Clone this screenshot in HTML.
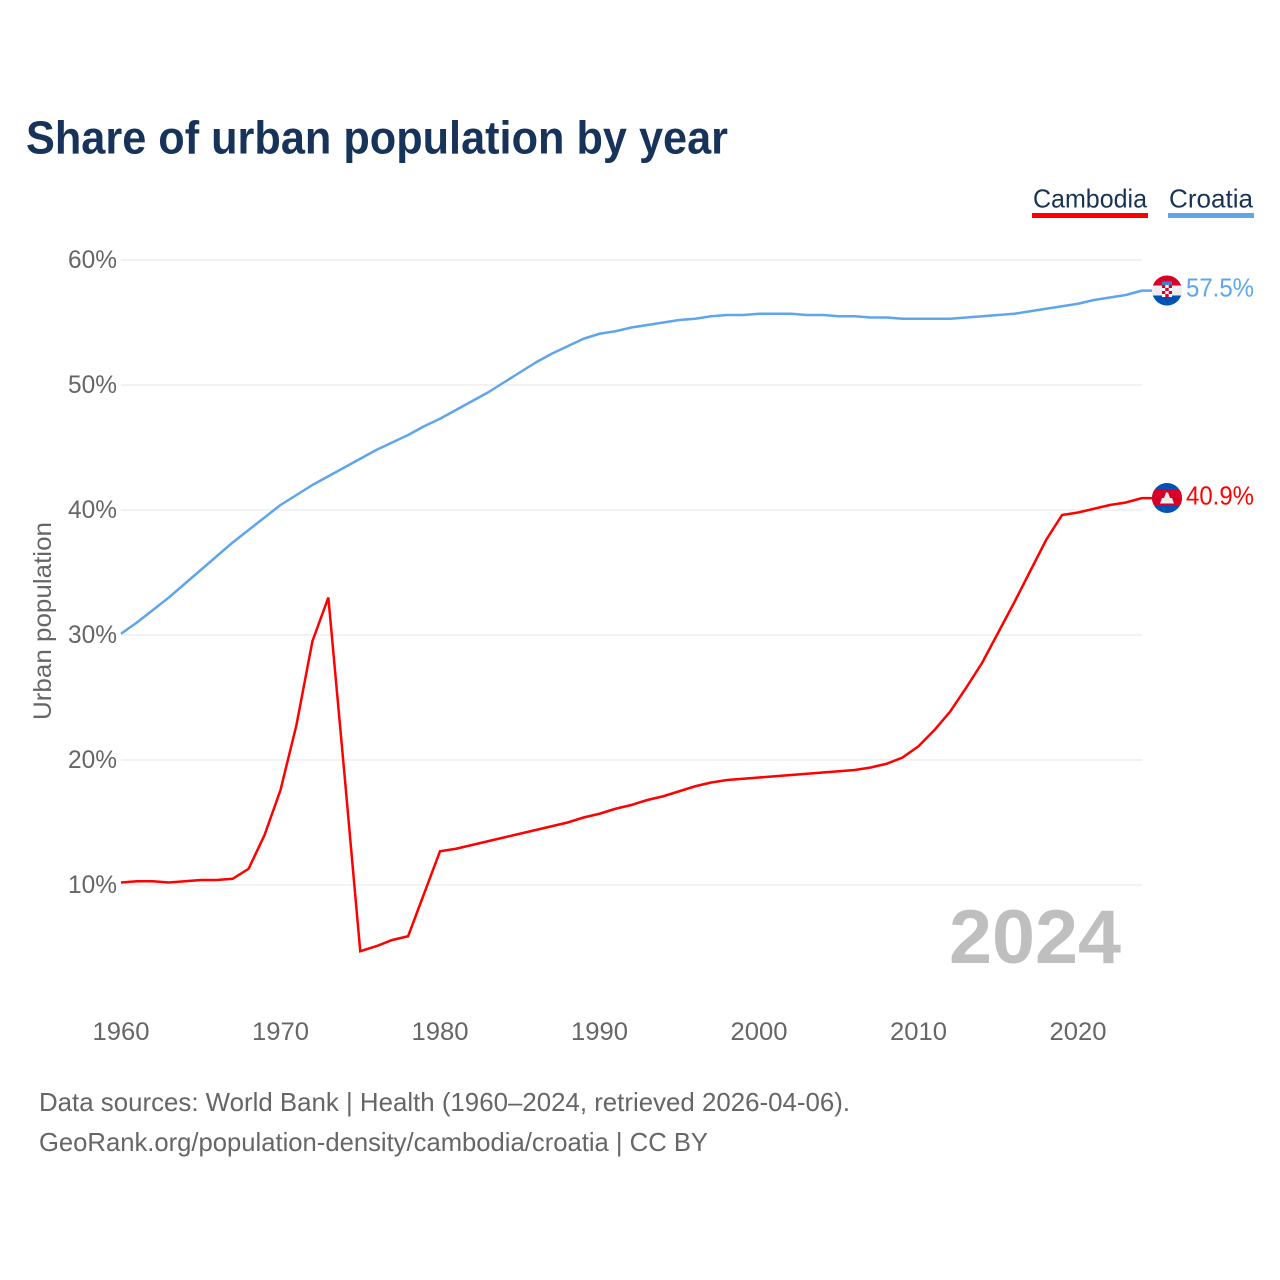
<!DOCTYPE html>
<html lang="en">
<head>
<meta charset="utf-8">
<title>Share of urban population by year</title>
<style>
html,body{margin:0;padding:0;background:#fff;}
svg{display:block;}
text{font-family:"Liberation Sans",sans-serif;}
</style>
</head>
<body>
<svg id="chart" xmlns="http://www.w3.org/2000/svg" width="1280" height="1280" viewBox="0 0 1280 1280">
  <defs>
    <clipPath id="clip-hr"><circle cx="1167" cy="290.5" r="15"></circle></clipPath>
    <clipPath id="clip-kh"><circle cx="1167" cy="498" r="15"></circle></clipPath>
  </defs>
  <rect x="0" y="0" width="1280" height="1280" fill="#fff"></rect>
  <text x="26" y="153.5" font-size="46" font-weight="700" fill="#17335a" textLength="702" lengthAdjust="spacingAndGlyphs">Share of urban population by year</text>

  <g id="grid"></g>
  <g id="yticks"></g>
  <g id="xticks"></g>

  <text transform="translate(51,720) rotate(-90)" x="0" y="0" font-size="25" fill="#666" textLength="198" lengthAdjust="spacingAndGlyphs">Urban population</text>

  <text x="949" y="963" font-size="76" font-weight="700" fill="#bfbfbf" textLength="172" lengthAdjust="spacingAndGlyphs">2024</text>

  <path id="line-croatia" fill="none" stroke="#5fa5ec" stroke-width="2.5" stroke-linejoin="round"></path>
  <path id="line-cambodia" fill="none" stroke="#ff0000" stroke-width="2.5" stroke-linejoin="miter"></path>

  <g>
    <text x="1033" y="207.500" font-size="26" fill="#1a3355" textLength="114" lengthAdjust="spacingAndGlyphs">Cambodia</text>
    <rect x="1032" y="213" width="116" height="5" fill="#ff0000"></rect>
  </g>
  <g>
    <text x="1169" y="207.500" font-size="26" fill="#1a3355" textLength="84" lengthAdjust="spacingAndGlyphs">Croatia</text>
    <rect x="1168" y="213" width="86" height="5" fill="#5fa5ec"></rect>
  </g>

  <g clip-path="url(#clip-hr)">
    <rect x="1152" y="275" width="30" height="31" fill="#eeeeee"></rect>
    <rect x="1152" y="275" width="30" height="10.500" fill="#d80027"></rect>
    <rect x="1152" y="295.500" width="30" height="10.500" fill="#0052b4"></rect>
    <rect x="1162" y="281.500" width="10" height="3.500" fill="#3f7fd0"></rect>
    <rect x="1162" y="285" width="10" height="12" fill="#fff"></rect>
    <rect x="1162" y="285" width="3.300" height="3" fill="#d80027"></rect>
    <rect x="1168.700" y="285" width="3.300" height="3" fill="#d80027"></rect>
    <rect x="1165.300" y="288" width="3.400" height="3" fill="#d80027"></rect>
    <rect x="1162" y="291" width="3.300" height="3" fill="#d80027"></rect>
    <rect x="1168.700" y="291" width="3.300" height="3" fill="#d80027"></rect>
    <rect x="1165.300" y="294" width="3.400" height="3" fill="#d80027"></rect>
  </g>
  <g clip-path="url(#clip-kh)">
    <rect x="1152" y="483" width="30" height="31" fill="#0052b4"></rect>
    <rect x="1152" y="490" width="30" height="15" fill="#d80027"></rect>
    <polygon points="1160,503.500 1162,498 1164,498 1166,492.500 1168,492.500 1170,498 1172,498 1174,503.500" fill="#eeeeee"></polygon>
  </g>

  <text x="1186" y="296.500" font-size="26" fill="#5fa5ec" textLength="68" lengthAdjust="spacingAndGlyphs">57.5%</text>
  <text x="1186" y="504.500" font-size="26" fill="#ff0000" textLength="68" lengthAdjust="spacingAndGlyphs">40.9%</text>

  <text x="39" y="1111" font-size="26" fill="#666" textLength="811" lengthAdjust="spacingAndGlyphs">Data sources: World Bank | Health (1960–2024, retrieved 2026-04-06).</text>
  <text x="39" y="1151" font-size="26" fill="#666" textLength="669" lengthAdjust="spacingAndGlyphs">GeoRank.org/population-density/cambodia/croatia | CC BY</text>
</svg>
<script>
const startYear = 1960;
const yTickValues = [10, 20, 30, 40, 50, 60];
const yTickLabels = ["10%", "20%", "30%", "40%", "50%", "60%"];
const xTickYears = [1960, 1970, 1980, 1990, 2000, 2010, 2020];
const xTickLabels = ["1960", "1970", "1980", "1990", "2000", "2010", "2020"];
const cambodiaValues = [10.2,10.3,10.3,10.2,10.3,10.4,10.4,10.5,11.3,14.0,17.6,22.8,29.5,33.0,19.0,4.7,5.1,5.6,5.9,9.3,12.7,12.9,13.2,13.5,13.8,14.1,14.4,14.7,15.0,15.4,15.7,16.1,16.4,16.8,17.1,17.5,17.9,18.2,18.4,18.5,18.6,18.7,18.8,18.9,19.0,19.1,19.2,19.4,19.7,20.2,21.1,22.4,23.9,25.8,27.8,30.2,32.6,35.1,37.6,39.6,39.8,40.1,40.4,40.6,40.95];
const croatiaValues = [30.1,31.0,32.0,33.0,34.1,35.2,36.3,37.4,38.4,39.4,40.4,41.2,42.0,42.7,43.4,44.1,44.8,45.4,46.0,46.7,47.3,48.0,48.7,49.4,50.2,51.0,51.8,52.5,53.1,53.7,54.1,54.3,54.6,54.8,55.0,55.2,55.3,55.5,55.6,55.6,55.7,55.7,55.7,55.6,55.6,55.5,55.5,55.4,55.4,55.3,55.3,55.3,55.3,55.4,55.5,55.6,55.7,55.9,56.1,56.3,56.5,56.8,57.0,57.2,57.55];

const NS = "http://www.w3.org/2000/svg";
const xScale = function (year) { return 121 + (year - 1960) * 15.95; };
const yScale = function (value) { return 260 + (60 - value) * 12.5; };

const gridGroup = document.getElementById("grid");
const yGroup = document.getElementById("yticks");
const xGroup = document.getElementById("xticks");

yTickValues.forEach(function (v, i) {
  const line = document.createElementNS(NS, "line");
  
  
  line.setAttribute("x1", 121);
  line.setAttribute("x2", 1142);
  line.setAttribute("y1", yScale(v));
  line.setAttribute("y2", yScale(v));
  line.setAttribute("stroke", "#eeeeee");
  line.setAttribute("stroke-width", "1.5");
  gridGroup.appendChild(line);

  const label = document.createElementNS(NS, "text");
  
  
  label.setAttribute("x", 117);
  label.setAttribute("y", yScale(v) + 8);
  label.setAttribute("text-anchor", "end");
  label.setAttribute("font-size", "25");
  label.setAttribute("fill", "#666");
  label.setAttribute("textLength", "49");
  label.setAttribute("lengthAdjust", "spacingAndGlyphs");
  label.textContent = yTickLabels[i];
  yGroup.appendChild(label);
});

xTickYears.forEach(function (y, i) {
  const label = document.createElementNS(NS, "text");
  
  
  label.setAttribute("x", xScale(y));
  label.setAttribute("y", 1040);
  label.setAttribute("text-anchor", "middle");
  label.setAttribute("font-size", "25");
  label.setAttribute("fill", "#666");
  label.setAttribute("textLength", "57");
  label.setAttribute("lengthAdjust", "spacingAndGlyphs");
  label.textContent = xTickLabels[i];
  xGroup.appendChild(label);
});

function linePath(values) {
  let d = "";
  values.forEach(function (v, i) {
    d += (i === 0 ? "M" : "L") + xScale(startYear + i).toFixed(2) + " " + yScale(v).toFixed(2);
  });
  d += "L1152 " + yScale(values[values.length - 1]).toFixed(2);
  return d;
}
document.getElementById("line-cambodia").setAttribute("d", linePath(cambodiaValues));
document.getElementById("line-croatia").setAttribute("d", linePath(croatiaValues));
</script>
</body>
</html>
